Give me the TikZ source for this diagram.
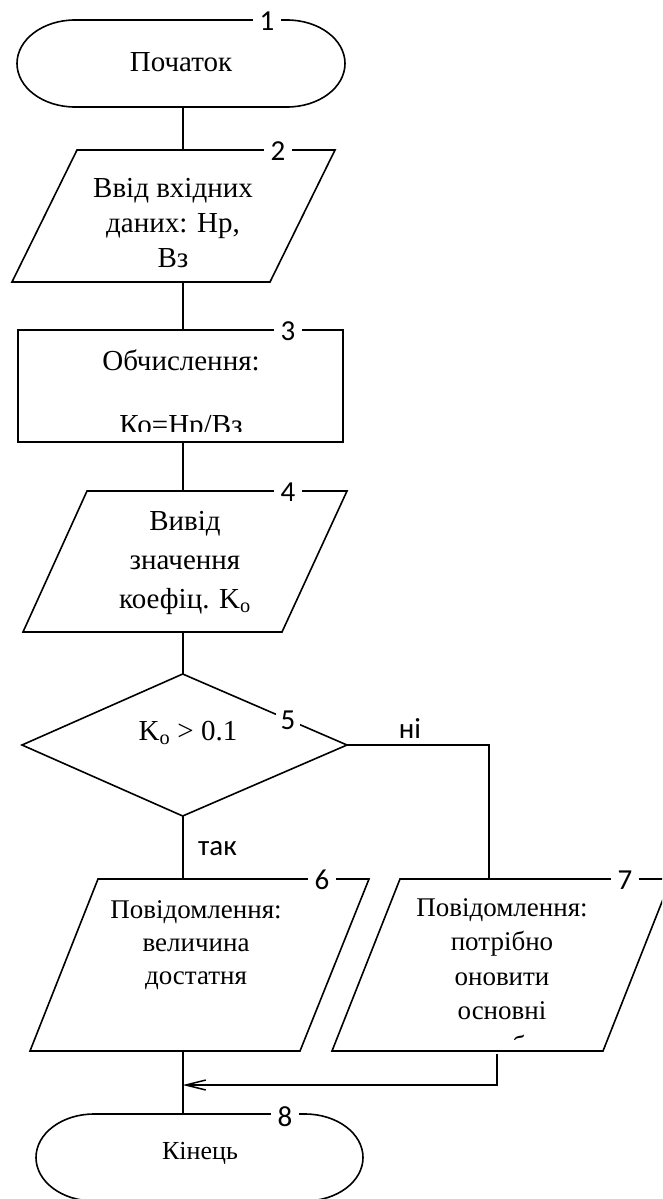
\documentclass[tikz,border=0pt]{standalone}
\usepackage{fontspec}
\setmainfont{Liberation Serif}
\newfontfamily\labfont{Carlito}
\usetikzlibrary{arrows.meta}
\begin{document}
\begin{tikzpicture}[x=1pt,y=1pt,
  blk/.style={draw, line width=1.6pt, line join=miter},
  conn/.style={line width=1.6pt},
  txt/.style={font=\fontsize{29}{35}\selectfont, align=center, inner sep=0pt},
  num/.style={font=\labfont\fontsize{29}{29}\selectfont, fill=white, inner xsep=7pt, inner ysep=1pt},
  yn/.style={font=\labfont\fontsize{29}{29}\selectfont, inner sep=0pt}]
\useasboundingbox (0,0) rectangle (662,-1199);
\clip (0,0) rectangle (662,-1199);

% ---- 1: start terminal
\draw[blk] (75,-20) -- (287,-20) arc[start angle=90,end angle=-90,x radius=58,y radius=43.5]
  -- (75,-107) arc[start angle=270,end angle=90,x radius=58,y radius=43.5] -- cycle;
\node[txt] (t1) at (181,-62) {Початок};
\node[num] (n1) at (267,-21) {1};
\coordinate (s1b) at (182.7,-107);

% ---- 2: input
\draw[blk] (77,-150) -- (335,-150) -- (270,-282) -- (12,-282) -- cycle;
\node[txt] (t2) at (173,-223) {Ввід вхідних\\даних: Нр,\\Вз};
\node[num] (n2) at (278,-151) {2};
\coordinate (s2t) at (182.7,-150);
\coordinate (s2b) at (182.7,-282);

% ---- 3: process
\draw[blk] (18,-330) rectangle (343,-442);
\node[txt] (t3) at (181,-360) {Обчислення:};
\begin{scope}
  \clip (18,-330) rectangle (343,-431);
  \node[txt, anchor=base] (t3b) at (181,-434) {Ко=Нр/Вз};
\end{scope}
\node[num] (n3) at (288,-331) {3};
\coordinate (s3t) at (182.7,-330);
\coordinate (s3b) at (182.7,-442);

% ---- 4: output
\draw[blk] (87,-491) -- (347,-491) -- (282,-632) -- (23,-632) -- cycle;
\node[txt, font=\fontsize{29}{39}\selectfont] (t4) at (185,-563) {Вивід\\значення\\коефіц. K\textsubscript{о}};
\node[num] (n4) at (288,-492) {4};
\coordinate (s4t) at (182.7,-491);
\coordinate (s4b) at (182.7,-632);

% ---- 5: decision
\draw[blk] (182.7,-674) -- (347,-745) -- (182.7,-816) -- (22,-745) -- cycle;
\node[txt] (t5) at (188,-733) {K\textsubscript{о} > 0.1};
\node[num, inner xsep=5pt] (n5) at (288,-720) {5};
\coordinate (s5t) at (182.7,-674);
\coordinate (s5r) at (347,-745);
\coordinate (s5b) at (182.7,-816);
\coordinate (c5) at (489,-745);
\node[yn] (no) at (410,-729) {ні};
\node[yn, anchor=west] (yes) at (198,-849) {так};

% ---- 6: output yes
\draw[blk] (98,-879) -- (369,-879) -- (300,-1051) -- (30,-1051) -- cycle;
\node[txt, font=\fontsize{27}{33}\selectfont] (t6) at (196,-945) {Повідомлення:\\величина\\достатня};
\node[num] (n6) at (322,-880) {6};
\coordinate (s6t) at (182.7,-879);
\coordinate (s6b) at (182.7,-1051);

% ---- 7: output no
\draw[blk] (400,-879) -- (671,-879) -- (603,-1051) -- (332,-1051) -- cycle;
\begin{scope}
  \clip (300,-860) rectangle (662,-1039);
  \node[txt, font=\fontsize{27}{34.5}\selectfont] (t7) at (502,-976.5) {Повідомлення:\\потрібно\\оновити\\основні\\засоби};
\end{scope}
\node[num] (n7) at (625,-880) {7};
\coordinate (s7t) at (489,-879);
\coordinate (s7b) at (497,-1054);
\coordinate (c7) at (497,-1085);
\coordinate (m8) at (182.7,-1085);

% ---- 8: end terminal
\draw[blk] (94,-1114) -- (305,-1114) arc[start angle=90,end angle=-90,x radius=58,y radius=43.5]
  -- (94,-1201) arc[start angle=270,end angle=90,x radius=58,y radius=43.5] -- cycle;
\node[txt, font=\fontsize{26}{30}\selectfont] (t8) at (200,-1153) {Кінець};
\node[num] (n8) at (285,-1117) {8};
\coordinate (s8t) at (182.7,-1114);

% ---- connectors
\draw[conn] (s1b) -- (s2t);
\draw[conn] (s2b) -- (s3t);
\draw[conn] (s3b) -- (s4t);
\draw[conn] (s4b) -- (s5t);
\draw[conn] (s5r) -- (c5) -- (s7t);
\draw[conn] (s5b) -- (s6t);
\draw[conn] (s6b) -- (s8t);
\draw[conn, -{Straight Barb[length=20pt,width=10pt,line width=1.5pt]}] (s7b) -- (c7) -- (m8);
\end{tikzpicture}
\end{document}
